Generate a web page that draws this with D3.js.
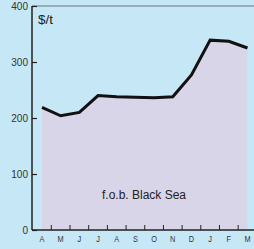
<!DOCTYPE html>
<html>
<head>
<script src="https://cdn.jsdelivr.net/npm/d3@7"></script>
<style>
    body { margin: 0; background: #c6e8f6; }
    svg { display: block; font-family: "Liberation Sans", Arial, sans-serif; }
</style>
</head>
<body>
<svg id="chart" width="254" height="249"></svg>
<script>
    // monthly wheat price, $/t
    const months = ["A", "M", "J", "J", "A", "S", "O", "N", "D", "J", "F", "M"]
    const prices = [219, 204, 210, 240, 238, 237, 236, 238, 277, 339, 337, 325]
    const yTicks = [0, 100, 200, 300, 400]

    const svg = d3.select("#chart")
    const keys = months.map((m, i) => i)

    const x = d3.scalePoint()
        .domain(keys)
        .range([42, 247.5])

    const y = d3.scaleLinear()
        .domain([0, 400])
        .range([230, 6])

    const data = keys.map(i => ({ i: i, v: prices[i] }))

    // background
    svg.append("rect")
        .attr("width", 254).attr("height", 249)
        .attr("fill", "#c6e8f6")

    const area = d3.area()
        .x(d => x(d.i))
        .y0(y(0))
        .y1(d => y(d.v))

    svg.append("path")
        .datum(data)
        .attr("d", area)
        .attr("fill", "#d9d5e8")

    const line = d3.line()
        .x(d => x(d.i))
        .y(d => y(d.v))

    svg.append("path")
        .datum(data)
        .attr("d", line)
        .attr("fill", "none")
        .attr("stroke", "#111")
        .attr("stroke-width", 3)
        .attr("stroke-linejoin", "miter")

    // top frame line
    svg.append("line")
        .attr("x1", 32).attr("x2", 254)
        .attr("y1", y(400)).attr("y2", y(400))
        .attr("stroke", "#6a7278").attr("stroke-width", 1)

    // y axis
    const yAxis = svg.append("g")
        .attr("transform", "translate(32,0)")
        .call(d3.axisRight(y).tickValues(yTicks).tickSize(5).tickFormat(""))
    yAxis.select(".domain").remove()
    yAxis.selectAll("line").attr("stroke", "#222").attr("stroke-width", 1.2)

    svg.append("line")
        .attr("x1", 32).attr("x2", 32)
        .attr("y1", y(400)).attr("y2", y(0))
        .attr("stroke", "#222").attr("stroke-width", 1.5)

    svg.selectAll(".ylab")
        .data(yTicks)
        .enter().append("text")
        .attr("x", 28)
        .attr("y", d => y(d) + 3.5)
        .attr("text-anchor", "end")
        .attr("font-size", 10)
        .attr("fill", "#333")
        .text(d => d)

    // x axis
    svg.append("line")
        .attr("x1", 32).attr("x2", 254)
        .attr("y1", y(0)).attr("y2", y(0))
        .attr("stroke", "#222").attr("stroke-width", 1.5)

    const step = x.step()
    svg.selectAll(".xtick")
        .data(keys.slice(0, -1))
        .enter().append("line")
        .attr("x1", d => x(d) + step / 2)
        .attr("x2", d => x(d) + step / 2)
        .attr("y1", y(0))
        .attr("y2", y(0) - 5)
        .attr("stroke", "#222").attr("stroke-width", 1)

    svg.selectAll(".xlab")
        .data(keys)
        .enter().append("text")
        .attr("x", d => x(d))
        .attr("y", 242.5)
        .attr("text-anchor", "middle")
        .attr("font-size", 9)
        .attr("fill", "#333")
        .attr("transform", d => `translate(${x(d)},0) scale(0.82,1) translate(${-x(d)},0)`)
        .text(d => months[d])

    svg.append("text")
        .attr("x", 38).attr("y", 24)
        .attr("font-size", 13.5)
        .attr("fill", "#222")
        .text("$/t")

    svg.append("text")
        .attr("x", 144).attr("y", 199)
        .attr("text-anchor", "middle")
        .attr("font-size", 12)
        .attr("fill", "#222")
        .text("f.o.b. Black Sea")
</script>
</body>
</html>
